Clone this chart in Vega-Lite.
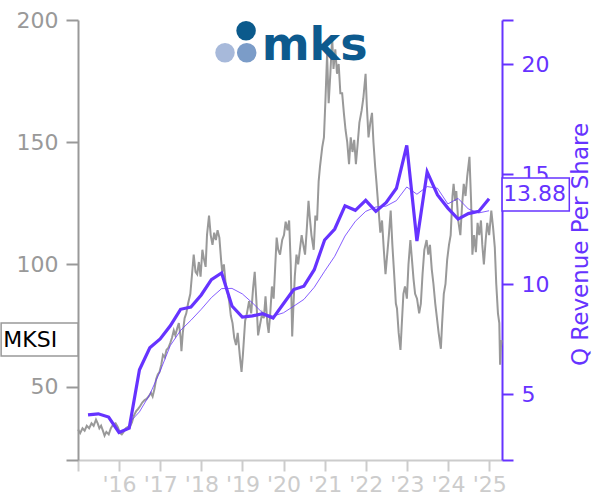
{
  "$schema": "https://vega.github.io/schema/vega-lite/v6.json",
  "width": 424,
  "height": 440,
  "autosize": {"type": "none"},
  "padding": {"left": 78, "top": 20, "right": 98, "bottom": 40},
  "background": "white",
  "config": {"view": {"stroke": null}, "font": "DejaVu Sans"},
  "datasets": {
    "price": [
      {"date": "2015-01-02", "price": 32.5}, {"date": "2015-01-20", "price": 31}, {"date": "2015-02-10", "price": 33}, {"date": "2015-03-01", "price": 32},
      {"date": "2015-03-20", "price": 34}, {"date": "2015-04-10", "price": 33}, {"date": "2015-05-01", "price": 35}, {"date": "2015-05-20", "price": 34},
      {"date": "2015-06-10", "price": 36.5}, {"date": "2015-06-25", "price": 35}, {"date": "2015-07-10", "price": 33}, {"date": "2015-07-25", "price": 34},
      {"date": "2015-08-10", "price": 32}, {"date": "2015-08-25", "price": 30}, {"date": "2015-09-10", "price": 31.5}, {"date": "2015-10-01", "price": 30.5},
      {"date": "2015-10-20", "price": 33}, {"date": "2015-11-10", "price": 34.5}, {"date": "2015-12-01", "price": 35}, {"date": "2015-12-20", "price": 33.5},
      {"date": "2016-01-10", "price": 31}, {"date": "2016-01-25", "price": 30.5}, {"date": "2016-02-10", "price": 31.5}, {"date": "2016-03-01", "price": 33},
      {"date": "2016-03-20", "price": 33.5}, {"date": "2016-04-10", "price": 34}, {"date": "2016-04-25", "price": 35.5}, {"date": "2016-05-10", "price": 38},
      {"date": "2016-06-01", "price": 40}, {"date": "2016-06-20", "price": 41}, {"date": "2016-07-05", "price": 42}, {"date": "2016-07-25", "price": 43.5},
      {"date": "2016-08-15", "price": 44.5}, {"date": "2016-09-01", "price": 45}, {"date": "2016-09-20", "price": 46}, {"date": "2016-10-10", "price": 47.5},
      {"date": "2016-10-25", "price": 46}, {"date": "2016-11-10", "price": 49}, {"date": "2016-11-25", "price": 53}, {"date": "2016-12-10", "price": 55},
      {"date": "2016-12-25", "price": 56}, {"date": "2017-01-10", "price": 59}, {"date": "2017-01-25", "price": 63}, {"date": "2017-02-10", "price": 62},
      {"date": "2017-02-25", "price": 65}, {"date": "2017-03-15", "price": 66}, {"date": "2017-04-01", "price": 68}, {"date": "2017-04-15", "price": 70},
      {"date": "2017-05-01", "price": 73}, {"date": "2017-05-15", "price": 71}, {"date": "2017-06-01", "price": 74}, {"date": "2017-06-15", "price": 76},
      {"date": "2017-07-01", "price": 70}, {"date": "2017-07-08", "price": 64.5}, {"date": "2017-07-20", "price": 72}, {"date": "2017-08-05", "price": 78},
      {"date": "2017-08-20", "price": 80}, {"date": "2017-09-05", "price": 84}, {"date": "2017-09-25", "price": 88}, {"date": "2017-10-10", "price": 96},
      {"date": "2017-10-25", "price": 104}, {"date": "2017-11-10", "price": 97}, {"date": "2017-11-25", "price": 96}, {"date": "2017-12-10", "price": 101},
      {"date": "2017-12-25", "price": 95}, {"date": "2018-01-10", "price": 106}, {"date": "2018-01-25", "price": 102}, {"date": "2018-02-08", "price": 99},
      {"date": "2018-02-20", "price": 112}, {"date": "2018-03-10", "price": 120}, {"date": "2018-03-25", "price": 112}, {"date": "2018-04-10", "price": 108},
      {"date": "2018-04-25", "price": 113}, {"date": "2018-05-10", "price": 110}, {"date": "2018-05-25", "price": 114}, {"date": "2018-06-10", "price": 111},
      {"date": "2018-06-25", "price": 102}, {"date": "2018-07-05", "price": 97}, {"date": "2018-07-20", "price": 100}, {"date": "2018-08-05", "price": 92},
      {"date": "2018-08-20", "price": 89}, {"date": "2018-09-05", "price": 85}, {"date": "2018-09-20", "price": 79}, {"date": "2018-10-05", "price": 76},
      {"date": "2018-10-20", "price": 70}, {"date": "2018-11-05", "price": 67}, {"date": "2018-11-20", "price": 72}, {"date": "2018-12-10", "price": 62},
      {"date": "2018-12-24", "price": 56}, {"date": "2019-01-05", "price": 63}, {"date": "2019-01-25", "price": 77}, {"date": "2019-02-10", "price": 80},
      {"date": "2019-03-01", "price": 85}, {"date": "2019-03-20", "price": 80}, {"date": "2019-04-05", "price": 90}, {"date": "2019-04-20", "price": 97},
      {"date": "2019-05-05", "price": 85}, {"date": "2019-05-20", "price": 71}, {"date": "2019-06-05", "price": 75}, {"date": "2019-06-25", "price": 80},
      {"date": "2019-07-10", "price": 78}, {"date": "2019-07-25", "price": 87}, {"date": "2019-08-10", "price": 76}, {"date": "2019-08-22", "price": 72},
      {"date": "2019-09-05", "price": 80}, {"date": "2019-09-20", "price": 91}, {"date": "2019-10-05", "price": 86}, {"date": "2019-10-20", "price": 100},
      {"date": "2019-11-01", "price": 111}, {"date": "2019-11-15", "price": 106}, {"date": "2019-12-01", "price": 104}, {"date": "2019-12-20", "price": 110},
      {"date": "2020-01-05", "price": 112}, {"date": "2020-01-20", "price": 117.5}, {"date": "2020-02-05", "price": 114}, {"date": "2020-02-20", "price": 118},
      {"date": "2020-03-05", "price": 100}, {"date": "2020-03-18", "price": 70.5}, {"date": "2020-03-28", "price": 82}, {"date": "2020-04-10", "price": 95},
      {"date": "2020-04-25", "price": 104}, {"date": "2020-05-10", "price": 100}, {"date": "2020-05-25", "price": 106}, {"date": "2020-06-10", "price": 112},
      {"date": "2020-06-25", "price": 108}, {"date": "2020-07-10", "price": 104}, {"date": "2020-07-25", "price": 114}, {"date": "2020-08-10", "price": 126},
      {"date": "2020-08-20", "price": 120}, {"date": "2020-09-05", "price": 112}, {"date": "2020-09-25", "price": 106}, {"date": "2020-10-10", "price": 120},
      {"date": "2020-10-25", "price": 118}, {"date": "2020-11-08", "price": 134}, {"date": "2020-11-20", "price": 140}, {"date": "2020-12-10", "price": 148},
      {"date": "2020-12-25", "price": 152}, {"date": "2021-01-08", "price": 168}, {"date": "2021-01-22", "price": 186}, {"date": "2021-02-05", "price": 166},
      {"date": "2021-02-20", "price": 178}, {"date": "2021-03-08", "price": 193}, {"date": "2021-03-20", "price": 180}, {"date": "2021-04-05", "price": 188},
      {"date": "2021-04-20", "price": 178}, {"date": "2021-05-05", "price": 182}, {"date": "2021-05-20", "price": 170}, {"date": "2021-06-05", "price": 170},
      {"date": "2021-06-20", "price": 162}, {"date": "2021-07-05", "price": 155}, {"date": "2021-07-20", "price": 150}, {"date": "2021-08-05", "price": 141},
      {"date": "2021-08-20", "price": 152}, {"date": "2021-09-05", "price": 146}, {"date": "2021-09-20", "price": 151}, {"date": "2021-10-05", "price": 141},
      {"date": "2021-10-20", "price": 149}, {"date": "2021-11-05", "price": 158}, {"date": "2021-11-25", "price": 163}, {"date": "2021-12-10", "price": 168},
      {"date": "2021-12-30", "price": 178}, {"date": "2022-01-10", "price": 165}, {"date": "2022-01-25", "price": 152}, {"date": "2022-02-10", "price": 158},
      {"date": "2022-02-25", "price": 162}, {"date": "2022-03-10", "price": 150}, {"date": "2022-03-25", "price": 140}, {"date": "2022-04-05", "price": 134},
      {"date": "2022-04-20", "price": 125}, {"date": "2022-05-10", "price": 113}, {"date": "2022-05-25", "price": 118}, {"date": "2022-06-10", "price": 106},
      {"date": "2022-06-25", "price": 96}, {"date": "2022-07-10", "price": 104}, {"date": "2022-07-25", "price": 112}, {"date": "2022-08-10", "price": 122},
      {"date": "2022-08-25", "price": 108}, {"date": "2022-09-10", "price": 96}, {"date": "2022-09-25", "price": 84}, {"date": "2022-10-05", "price": 82},
      {"date": "2022-10-20", "price": 72}, {"date": "2022-11-05", "price": 65}, {"date": "2022-11-15", "price": 74}, {"date": "2022-12-01", "price": 88},
      {"date": "2022-12-15", "price": 91}, {"date": "2023-01-01", "price": 86}, {"date": "2023-01-15", "price": 100}, {"date": "2023-02-01", "price": 110},
      {"date": "2023-02-15", "price": 102}, {"date": "2023-03-01", "price": 94}, {"date": "2023-03-15", "price": 88}, {"date": "2023-04-01", "price": 86},
      {"date": "2023-04-20", "price": 80}, {"date": "2023-05-05", "price": 84}, {"date": "2023-05-20", "price": 96}, {"date": "2023-06-05", "price": 106},
      {"date": "2023-06-25", "price": 110}, {"date": "2023-07-10", "price": 104}, {"date": "2023-07-25", "price": 108}, {"date": "2023-08-10", "price": 98},
      {"date": "2023-08-25", "price": 92}, {"date": "2023-09-10", "price": 84}, {"date": "2023-09-25", "price": 78}, {"date": "2023-10-10", "price": 72},
      {"date": "2023-10-30", "price": 65.5}, {"date": "2023-11-10", "price": 76}, {"date": "2023-11-25", "price": 88}, {"date": "2023-12-10", "price": 92},
      {"date": "2023-12-25", "price": 102}, {"date": "2024-01-10", "price": 108}, {"date": "2024-01-25", "price": 112}, {"date": "2024-02-10", "price": 128},
      {"date": "2024-02-20", "price": 133}, {"date": "2024-03-05", "price": 126}, {"date": "2024-03-15", "price": 130}, {"date": "2024-04-01", "price": 118},
      {"date": "2024-04-20", "price": 112}, {"date": "2024-05-05", "price": 124}, {"date": "2024-05-20", "price": 133}, {"date": "2024-06-05", "price": 128},
      {"date": "2024-06-20", "price": 136}, {"date": "2024-07-10", "price": 144}, {"date": "2024-07-25", "price": 125}, {"date": "2024-08-05", "price": 104},
      {"date": "2024-08-20", "price": 112}, {"date": "2024-09-05", "price": 105}, {"date": "2024-09-20", "price": 117}, {"date": "2024-10-05", "price": 112},
      {"date": "2024-10-20", "price": 118}, {"date": "2024-11-01", "price": 108}, {"date": "2024-11-15", "price": 100}, {"date": "2024-12-01", "price": 110},
      {"date": "2024-12-15", "price": 117}, {"date": "2025-01-01", "price": 112}, {"date": "2025-01-20", "price": 122}, {"date": "2025-02-05", "price": 115},
      {"date": "2025-02-20", "price": 107}, {"date": "2025-03-05", "price": 92}, {"date": "2025-03-20", "price": 80}, {"date": "2025-04-01", "price": 76},
      {"date": "2025-04-08", "price": 59}, {"date": "2025-04-15", "price": 66}, {"date": "2025-04-22", "price": 69}
    ],
    "rev": [
      {"date": "2015-03-31", "rev": 4.05}, {"date": "2015-06-30", "rev": 4.1}, {"date": "2015-09-30", "rev": 3.95}, {"date": "2015-12-31", "rev": 3.25},
      {"date": "2016-03-31", "rev": 3.45}, {"date": "2016-06-30", "rev": 6.1}, {"date": "2016-09-30", "rev": 7.1}, {"date": "2016-12-31", "rev": 7.5},
      {"date": "2017-03-31", "rev": 8.1}, {"date": "2017-06-30", "rev": 8.85}, {"date": "2017-09-30", "rev": 8.95}, {"date": "2017-12-31", "rev": 9.5},
      {"date": "2018-03-31", "rev": 10.2}, {"date": "2018-06-30", "rev": 10.5}, {"date": "2018-09-30", "rev": 9.0}, {"date": "2018-12-31", "rev": 8.5},
      {"date": "2019-03-31", "rev": 8.55}, {"date": "2019-06-30", "rev": 8.65}, {"date": "2019-09-30", "rev": 8.45}, {"date": "2019-12-31", "rev": 9.1},
      {"date": "2020-03-31", "rev": 9.75}, {"date": "2020-06-30", "rev": 9.9}, {"date": "2020-09-30", "rev": 10.65}, {"date": "2020-12-31", "rev": 12.0},
      {"date": "2021-03-31", "rev": 12.5}, {"date": "2021-06-30", "rev": 13.55}, {"date": "2021-09-30", "rev": 13.35}, {"date": "2021-12-31", "rev": 13.8},
      {"date": "2022-03-31", "rev": 13.3}, {"date": "2022-06-30", "rev": 13.7}, {"date": "2022-09-30", "rev": 14.35}, {"date": "2022-12-31", "rev": 16.3},
      {"date": "2023-03-31", "rev": 11.95}, {"date": "2023-06-30", "rev": 15.1}, {"date": "2023-09-30", "rev": 14.05}, {"date": "2023-12-31", "rev": 13.45},
      {"date": "2024-03-31", "rev": 12.95}, {"date": "2024-06-30", "rev": 13.2}, {"date": "2024-09-30", "rev": 13.3}, {"date": "2024-12-31", "rev": 13.88}
    ],
    "ma": [
      {"date": "2016-03-31", "rev": 3.69}, {"date": "2016-06-30", "rev": 4.19}, {"date": "2016-09-30", "rev": 4.98}, {"date": "2016-12-31", "rev": 6.04},
      {"date": "2017-03-31", "rev": 7.2}, {"date": "2017-06-30", "rev": 7.89}, {"date": "2017-09-30", "rev": 8.35}, {"date": "2017-12-31", "rev": 8.85},
      {"date": "2018-03-31", "rev": 9.38}, {"date": "2018-06-30", "rev": 9.79}, {"date": "2018-09-30", "rev": 9.8}, {"date": "2018-12-31", "rev": 9.55},
      {"date": "2019-03-31", "rev": 9.14}, {"date": "2019-06-30", "rev": 8.68}, {"date": "2019-09-30", "rev": 8.54}, {"date": "2019-12-31", "rev": 8.69},
      {"date": "2020-03-31", "rev": 8.99}, {"date": "2020-06-30", "rev": 9.3}, {"date": "2020-09-30", "rev": 9.85}, {"date": "2020-12-31", "rev": 10.58},
      {"date": "2021-03-31", "rev": 11.26}, {"date": "2021-06-30", "rev": 12.18}, {"date": "2021-09-30", "rev": 12.85}, {"date": "2021-12-31", "rev": 13.3},
      {"date": "2022-03-31", "rev": 13.5}, {"date": "2022-06-30", "rev": 13.54}, {"date": "2022-09-30", "rev": 13.79}, {"date": "2022-12-31", "rev": 14.41},
      {"date": "2023-03-31", "rev": 14.08}, {"date": "2023-06-30", "rev": 14.43}, {"date": "2023-09-30", "rev": 14.35}, {"date": "2023-12-31", "rev": 13.64},
      {"date": "2024-03-31", "rev": 13.89}, {"date": "2024-06-30", "rev": 13.41}, {"date": "2024-09-30", "rev": 13.23}, {"date": "2024-12-31", "rev": 13.33}
    ],
    "logoDots": [
      {"date": "2018-07-30", "price": 186.6, "c": "light"},
      {"date": "2019-02-08", "price": 186.6, "c": "mid"},
      {"date": "2019-02-02", "price": 195.6, "c": "dark"}
    ],
    "logoText": [{"date": "2019-06-21", "price": 183.6, "label": "mks"}],
    "tickerBox": [{"date": "2013-02-17", "date2": "2015-01-01", "price": 76.0, "price2": 62.5}],
    "tickerText": [{"date": "2013-03-08", "price": 69.2, "label": "MKSI"}],
    "valueBox": [{"date": "2025-04-26", "date2": "2026-12-14", "rev": 14.82, "rev2": 13.32}],
    "valueText": [{"date": "2025-05-05", "rev": 14.07, "label": "13.88"}]
  },
  "layer": [
    {
      "encoding": {
        "x": {
          "field": "date", "type": "temporal", "title": null,
          "scale": {"type": "utc", "domain": ["2015-01-01", "2025-04-25"]},
          "axis": {
            "values": [
              {"year": 2015, "month": 1, "date": 1, "utc": true}, {"year": 2016, "month": 1, "date": 1, "utc": true},
              {"year": 2017, "month": 1, "date": 1, "utc": true}, {"year": 2018, "month": 1, "date": 1, "utc": true},
              {"year": 2019, "month": 1, "date": 1, "utc": true}, {"year": 2020, "month": 1, "date": 1, "utc": true},
              {"year": 2021, "month": 1, "date": 1, "utc": true}, {"year": 2022, "month": 1, "date": 1, "utc": true},
              {"year": 2023, "month": 1, "date": 1, "utc": true}, {"year": 2024, "month": 1, "date": 1, "utc": true},
              {"year": 2025, "month": 1, "date": 1, "utc": true}
            ],
            "labelExpr": "utcFormat(datum.value, '%Y') == '2015' ? '' : \"'\" + utcFormat(datum.value, '%y')",
            "grid": false, "domainColor": "#cccccc", "domainWidth": 2, "tickColor": "#cccccc", "tickWidth": 2, "tickSize": 11,
            "labelColor": "#cccccc", "labelFontSize": 22, "labelPadding": 3, "labelFlush": false, "labelOverlap": false
          }
        },
        "y": {
          "field": "price", "type": "quantitative", "title": null,
          "scale": {"domain": [20, 200], "nice": false, "zero": false},
          "axis": {
            "orient": "left", "values": [20, 50, 100, 150, 200],
            "labelExpr": "datum.value == 20 ? '' : datum.label",
            "grid": false, "domainColor": "#999999", "domainWidth": 2, "tickColor": "#999999", "tickWidth": 2, "tickSize": 12,
            "labelColor": "#999999", "labelFontSize": 22, "labelPadding": 8, "labelFlush": false, "labelOverlap": false
          }
        }
      },
      "layer": [
        {"data": {"name": "price"}, "mark": {"type": "line", "color": "#999999", "strokeWidth": 2}},
        {
          "data": {"name": "logoDots"},
          "mark": {"type": "point", "filled": true, "shape": "circle", "size": 380, "opacity": 1},
          "encoding": {
            "color": {"field": "c", "type": "nominal", "legend": null,
              "scale": {"domain": ["light", "mid", "dark"], "range": ["#a7b9da", "#7b9cc8", "#0b5a8c"]}}
          }
        },
        {
          "data": {"name": "logoText"},
          "mark": {"type": "text", "align": "left", "baseline": "alphabetic", "fontSize": 46, "fontWeight": "bold", "font": "DejaVu Sans", "color": "#0d5a8e"},
          "encoding": {"text": {"field": "label"}}
        },
        {
          "data": {"name": "tickerBox"},
          "mark": {"type": "rect", "fill": "white", "stroke": "#999999", "strokeWidth": 1.5},
          "encoding": {"x2": {"field": "date2"}, "y2": {"field": "price2"}}
        },
        {
          "data": {"name": "tickerText"},
          "mark": {"type": "text", "align": "left", "baseline": "middle", "fontSize": 22, "color": "black"},
          "encoding": {"text": {"field": "label"}}
        }
      ]
    },
    {
      "encoding": {
        "x": {"field": "date", "type": "temporal", "title": null, "scale": {"type": "utc", "domain": ["2015-01-01", "2025-04-25"]}},
        "y": {
          "field": "rev", "type": "quantitative",
          "scale": {"domain": [2, 22], "nice": false, "zero": false},
          "axis": {
            "orient": "right", "title": "Q Revenue Per Share", "titleAngle": -90, "titleColor": "#6633ff", "titleFontSize": 23,
            "titleFontWeight": "normal", "titlePadding": 44, "titleY": 224,
            "values": [2, 5, 10, 15, 20, 22],
            "labelExpr": "datum.value == 2 || datum.value == 22 ? '' : datum.label",
            "grid": false, "domainColor": "#6633ff", "domainWidth": 2, "tickColor": "#6633ff", "tickWidth": 2, "tickSize": 11,
            "labelColor": "#6633ff", "labelFontSize": 22, "labelPadding": 8, "labelFlush": false, "labelOverlap": false
          }
        }
      },
      "layer": [
        {"data": {"name": "ma"}, "mark": {"type": "line", "color": "#6633ff", "strokeWidth": 0.8}},
        {"data": {"name": "rev"}, "mark": {"type": "line", "color": "#6633ff", "strokeWidth": 3.2}},
        {
          "data": {"name": "valueBox"},
          "mark": {"type": "rect", "fill": "white", "stroke": "#6633ff", "strokeWidth": 1.5},
          "encoding": {"x2": {"field": "date2"}, "y2": {"field": "rev2"}}
        },
        {
          "data": {"name": "valueText"},
          "mark": {"type": "text", "align": "left", "baseline": "middle", "fontSize": 22, "color": "#6633ff"},
          "encoding": {"text": {"field": "label"}}
        }
      ]
    }
  ],
  "resolve": {"scale": {"y": "independent"}}
}
